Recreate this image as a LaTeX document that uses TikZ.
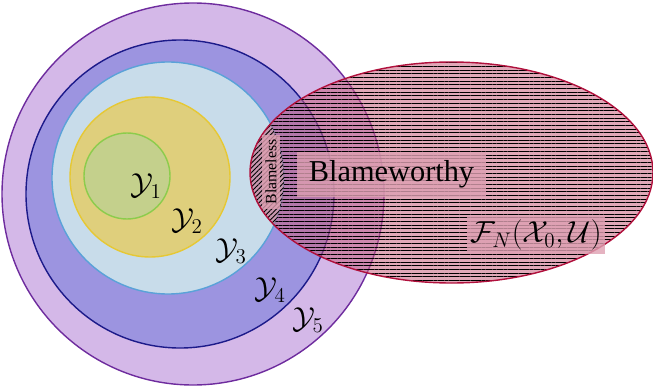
\documentclass[tikz,border=0pt]{standalone}
\usepackage{fontspec}
\setmainfont{Liberation Serif}
\usepackage{amsfonts,amssymb}
\usepackage{mathtools}
\usepackage{tikz}
\usetikzlibrary{calc,positioning}
\usetikzlibrary{patterns,patterns.meta}

\definecolor{yfivefill}{HTML}{D4B8E8}
\definecolor{yfiveline}{HTML}{6E2C9E}
\definecolor{yfourfill}{HTML}{9C94E0}
\definecolor{yfourline}{HTML}{1C1A8A}
\definecolor{ythreefill}{HTML}{C8DCEA}
\definecolor{ythreeline}{HTML}{5AA2D8}
\definecolor{ytwofill}{HTML}{DFCF7C}
\definecolor{ytwoline}{HTML}{E6C834}
\definecolor{yonefill}{HTML}{C4D08C}
\definecolor{yoneline}{HTML}{8CCC4C}
\definecolor{fnfill}{HTML}{C8607E}
\definecolor{fnline}{HTML}{B0103C}

\tikzset{
  setcircle/.style={thick},
  setlbl/.style={font=\LARGE, inner sep=1pt},
  tagbox/.style={fill=fnfill!60, fill opacity=0.8, text opacity=1},
}

\begin{document}
\begin{tikzpicture}
				 %\draw[color=gray,step=1mm, help lines,opacity=0.3] (0pt,0pt) grid (130mm,78mm); %help grids
				 %\draw[color=red,step=5mm, opacity=0.4] (0pt,0pt) grid (130mm,78mm); %help grids
				 \useasboundingbox (0mm,0mm) rectangle (130.6mm,78.2mm);
				 % nested sets
				 \draw[setcircle,fill=yfivefill,draw=yfiveline] (38.6mm,39.4mm) circle (38.2mm);
				 \draw[setcircle,fill=yfourfill,draw=yfourline] (36mm,39.4mm) circle (30.8mm);
				 \draw[setcircle,fill=ythreefill,draw=ythreeline] (33.6mm,42.6mm) circle (23.2mm);
				 \draw[setcircle,fill=ytwofill,draw=ytwoline] (30mm,42.8mm) circle (16mm);
				 \draw[setcircle,fill=yonefill,draw=yoneline] (25.4mm,43mm) circle (8.6mm);
				 % feasible set
				 \fill[fnfill,fill opacity=0.55] (90.3mm,43.7mm) ellipse (40.3mm and 22.1mm);
				 \begin{scope}
					 \clip (90.3mm,43.7mm) ellipse (40.3mm and 22.1mm);
					 \fill[pattern={Lines[angle=0,distance=2.1pt,line width=0.35pt]},even odd rule]
						 (90.3mm,43.7mm) ellipse (40.3mm and 22.1mm) (33.6mm,42.6mm) circle (23.2mm);
				 \end{scope}
				 \begin{scope}
					 \clip (33.6mm,42.6mm) circle (23.2mm);
					 \fill[pattern={Lines[angle=45,distance=1.9pt,line width=0.5pt]}]
						 (90.3mm,43.7mm) ellipse (40.3mm and 22.1mm);
				 \end{scope}
				 \draw[thick,fnline] (90.3mm,43.7mm) ellipse (40.3mm and 22.1mm);
				 % labels
				 \node[setlbl] (Y1) at (29.2mm,41mm) {$\mathcal{Y}_1$};
				 \node[setlbl] (Y2) at (37.4mm,34mm) {$\mathcal{Y}_2$};
				 \node[setlbl] (Y3) at (46.2mm,28mm) {$\mathcal{Y}_3$};
				 \node[setlbl] (Y4) at (54mm,20.2mm) {$\mathcal{Y}_4$};
				 \node[setlbl] (Y5) at (61.6mm,14.2mm) {$\mathcal{Y}_5$};
				 \node[tagbox,font=\LARGE,inner xsep=7pt,inner ysep=5pt] (worthy) at (78.3mm,43.3mm) {Blameworthy};
				 \node[tagbox,font=\small,inner xsep=2.5pt,inner ysep=2pt,rotate=90] (less) at (54.2mm,43.8mm) {Blameless};
				 \node[tagbox,font=\LARGE,inner sep=2pt] (FN) at (107.2mm,31.2mm) {$\mathcal{F}_N(\mathcal{X}_0,\mathcal{U})$};
\end{tikzpicture}
\end{document}
